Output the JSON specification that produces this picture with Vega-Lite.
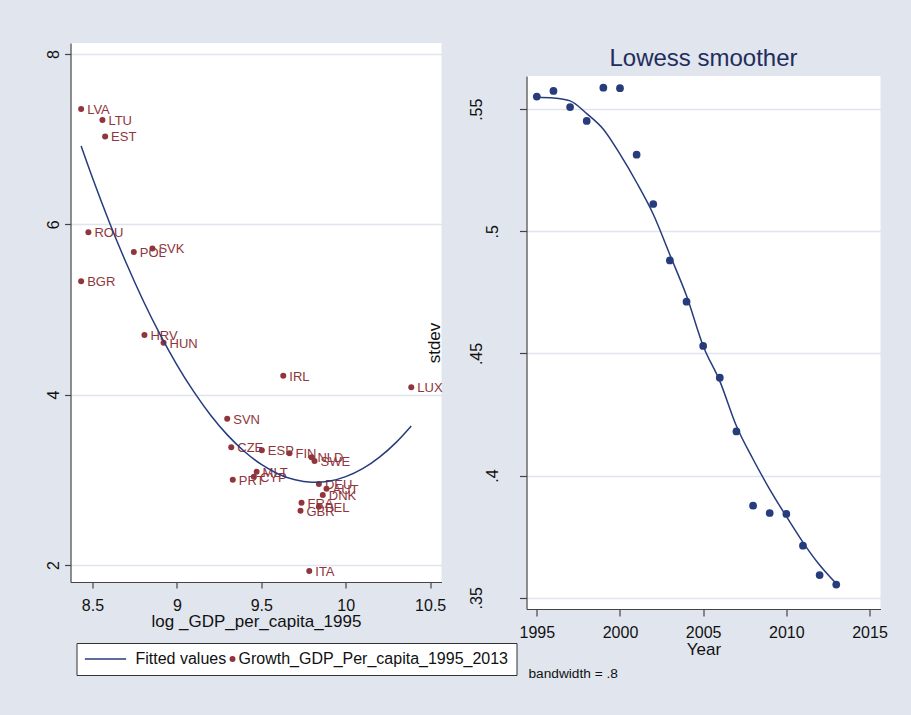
{
  "$schema": "https://vega.github.io/schema/vega-lite/v6.json",
  "background": "#e0e5ee",
  "padding": {"left": 45.5, "top": 43, "right": 27, "bottom": 38},
  "spacing": -21,
  "config": {
    "font": "Liberation Sans",
    "view": {"stroke": null, "fill": "white"},
    "axis": {
      "labelFont": "Liberation Sans",
      "titleFont": "Liberation Sans",
      "labelFontSize": 16,
      "titleFontSize": 17,
      "labelColor": "#111111",
      "titleColor": "#111111",
      "titleFontWeight": "normal",
      "domainColor": "#444444",
      "tickColor": "#444444",
      "domainWidth": 1.2,
      "tickWidth": 1.2,
      "gridColor": "#dfe4ee",
      "gridWidth": 1.5
    }
  },
  "hconcat": [
    {
      "width": 371,
      "height": 539,
      "layer": [
        {
          "data": {"values": [
            {"country": "LVA", "lgdp": 8.433, "growth": 7.354},
            {"country": "LTU", "lgdp": 8.559, "growth": 7.225},
            {"country": "EST", "lgdp": 8.575, "growth": 7.033},
            {"country": "ROU", "lgdp": 8.476, "growth": 5.906},
            {"country": "POL", "lgdp": 8.745, "growth": 5.675},
            {"country": "SVK", "lgdp": 8.855, "growth": 5.718},
            {"country": "BGR", "lgdp": 8.433, "growth": 5.331},
            {"country": "HRV", "lgdp": 8.808, "growth": 4.700},
            {"country": "HUN", "lgdp": 8.921, "growth": 4.610},
            {"country": "IRL", "lgdp": 9.630, "growth": 4.223},
            {"country": "LUX", "lgdp": 10.388, "growth": 4.086},
            {"country": "SVN", "lgdp": 9.298, "growth": 3.718},
            {"country": "CZE", "lgdp": 9.322, "growth": 3.382},
            {"country": "ESP", "lgdp": 9.503, "growth": 3.347},
            {"country": "FIN", "lgdp": 9.667, "growth": 3.311},
            {"country": "NLD", "lgdp": 9.797, "growth": 3.264},
            {"country": "SWE", "lgdp": 9.815, "growth": 3.221},
            {"country": "MLT", "lgdp": 9.472, "growth": 3.096},
            {"country": "CYP", "lgdp": 9.456, "growth": 3.037},
            {"country": "PRT", "lgdp": 9.331, "growth": 3.002},
            {"country": "DEU", "lgdp": 9.841, "growth": 2.951},
            {"country": "AUT", "lgdp": 9.886, "growth": 2.896},
            {"country": "DNK", "lgdp": 9.864, "growth": 2.822},
            {"country": "FRA", "lgdp": 9.738, "growth": 2.732},
            {"country": "BEL", "lgdp": 9.841, "growth": 2.685},
            {"country": "GBR", "lgdp": 9.732, "growth": 2.638},
            {"country": "ITA", "lgdp": 9.784, "growth": 1.930}
          ]},
          "layer": [
            {
              "mark": {"type": "point", "filled": true, "size": 36, "opacity": 1},
              "encoding": {
                "x": {"field": "lgdp", "type": "quantitative",
                  "scale": {"domain": [8.37, 10.567], "nice": false, "zero": false},
                  "axis": {"title": "log _GDP_per_capita_1995", "values": [8.5, 9, 9.5, 10, 10.5], "format": "~g", "grid": false, "tickSize": 6, "labelPadding": 9, "titlePadding": 0}},
                "y": {"field": "growth", "type": "quantitative",
                  "scale": {"domain": [1.80, 8.13], "nice": false, "zero": false},
                  "axis": {"title": null, "values": [2, 4, 6, 8], "format": "d", "grid": true, "tickSize": 6, "labelAngle": 270, "labelAlign": "center", "labelBaseline": "bottom", "labelPadding": 3}},
                "color": {"datum": "Growth_GDP_Per_capita_1995_2013",
                  "scale": {"domain": ["Fitted values", "Growth_GDP_Per_capita_1995_2013"], "range": ["#263c7c", "#90353b"]},
                  "legend": {
                    "title": null, "orient": "none", "legendX": 6, "legendY": 600,
                    "direction": "horizontal", "columns": 2, "columnPadding": 0,
                    "fillColor": "white", "strokeColor": "#333333", "padding": 8,
                    "labelFontSize": 16, "labelColor": "#111111", "labelFont": "Liberation Sans", "labelLimit": 600,
                    "symbolSize": 1700, "symbolStrokeWidth": 1.5, "labelOffset": 8,
                    "encode": {
                      "symbols": {"update": {
                        "x": {"signal": "datum.value === 'Fitted values' ? 21 : 3"},
                        "shape": {"signal": "datum.value === 'Fitted values' ? 'stroke' : 'circle'"},
                        "size": {"signal": "datum.value === 'Fitted values' ? 1700 : 20"},
                        "fill": {"signal": "datum.value === 'Fitted values' ? 'transparent' : '#90353b'"},
                        "stroke": {"signal": "datum.value === 'Fitted values' ? '#263c7c' : 'transparent'"},
                        "strokeWidth": {"value": 1.5},
                        "opacity": {"value": 1}
                      }},
                      "labels": {"update": {
                        "x": {"signal": "datum.value === 'Fitted values' ? 51 : 9"}
                      }}
                    }
                  }}
              }
            },
            {
              "mark": {"type": "text", "align": "left", "baseline": "middle", "dx": 6, "dy": 1, "fontSize": 13, "font": "Liberation Sans", "color": "#90353b"},
              "encoding": {
                "x": {"field": "lgdp", "type": "quantitative"},
                "y": {"field": "growth", "type": "quantitative"},
                "text": {"field": "country"}
              }
            }
          ]
        },
        {
          "data": {"values": [
            {"lgdp": 8.433, "fitted": 6.920},
            {"lgdp": 8.5, "fitted": 6.548},
            {"lgdp": 8.6, "fitted": 6.026},
            {"lgdp": 8.7, "fitted": 5.546},
            {"lgdp": 8.8, "fitted": 5.106},
            {"lgdp": 8.9, "fitted": 4.708},
            {"lgdp": 9.0, "fitted": 4.351},
            {"lgdp": 9.1, "fitted": 4.035},
            {"lgdp": 9.2, "fitted": 3.759},
            {"lgdp": 9.3, "fitted": 3.525},
            {"lgdp": 9.4, "fitted": 3.332},
            {"lgdp": 9.5, "fitted": 3.180},
            {"lgdp": 9.6, "fitted": 3.069},
            {"lgdp": 9.7, "fitted": 3.000},
            {"lgdp": 9.8, "fitted": 2.971},
            {"lgdp": 9.9, "fitted": 2.983},
            {"lgdp": 10.0, "fitted": 3.037},
            {"lgdp": 10.1, "fitted": 3.131},
            {"lgdp": 10.2, "fitted": 3.267},
            {"lgdp": 10.3, "fitted": 3.443},
            {"lgdp": 10.388, "fitted": 3.633}
          ]},
          "mark": {"type": "line", "strokeWidth": 1.5, "interpolate": "natural"},
          "encoding": {
            "x": {"field": "lgdp", "type": "quantitative", "axis": {"title": "log _GDP_per_capita_1995"}},
            "y": {"field": "fitted", "type": "quantitative", "axis": {"title": null}},
            "color": {"datum": "Fitted values",
              "scale": {"domain": ["Fitted values", "Growth_GDP_Per_capita_1995_2013"], "range": ["#263c7c", "#90353b"]},
              "legend": {
                "title": null, "orient": "none", "legendX": 6, "legendY": 600,
                "direction": "horizontal", "columns": 2, "columnPadding": 0,
                "fillColor": "white", "strokeColor": "#333333", "padding": 8,
                "labelFontSize": 16, "labelColor": "#111111", "labelFont": "Liberation Sans", "labelLimit": 600,
                "symbolSize": 1700, "symbolStrokeWidth": 1.5, "labelOffset": 8,
                "encode": {
                  "symbols": {"update": {
                    "x": {"signal": "datum.value === 'Fitted values' ? 21 : 3"},
                    "shape": {"signal": "datum.value === 'Fitted values' ? 'stroke' : 'circle'"},
                    "size": {"signal": "datum.value === 'Fitted values' ? 1700 : 20"},
                    "fill": {"signal": "datum.value === 'Fitted values' ? 'transparent' : '#90353b'"},
                    "stroke": {"signal": "datum.value === 'Fitted values' ? '#263c7c' : 'transparent'"},
                    "strokeWidth": {"value": 1.5},
                    "opacity": {"value": 1}
                  }},
                  "labels": {"update": {
                    "x": {"signal": "datum.value === 'Fitted values' ? 51 : 9"}
                  }}
                }
              }}
          }
        }
      ]
    },
    {
      "title": {"text": "bandwidth = .8", "orient": "bottom", "anchor": "start", "frame": "bounds", "fontSize": 13.7, "fontWeight": "normal", "font": "Liberation Sans", "color": "#111111", "dx": 103, "offset": 10},
      "spacing": 2,
      "vconcat": [
        {
          "width": 354,
          "height": 1,
          "view": {"fill": null, "stroke": null},
          "data": {"values": []},
          "mark": "point"
        },
        {
          "width": 354,
          "height": 533,
          "title": {"text": "Lowess smoother", "fontSize": 24, "fontWeight": "normal", "font": "Liberation Sans", "color": "#232d5c", "offset": 5.5, "anchor": "middle", "frame": "group"},
          "layer": [
            {
              "data": {"values": [
                {"year": 1995, "stdev": 0.5552},
                {"year": 1996, "stdev": 0.5575},
                {"year": 1997, "stdev": 0.5509},
                {"year": 1998, "stdev": 0.5452},
                {"year": 1999, "stdev": 0.5588},
                {"year": 2000, "stdev": 0.5586},
                {"year": 2001, "stdev": 0.5314},
                {"year": 2002, "stdev": 0.5112},
                {"year": 2003, "stdev": 0.4881},
                {"year": 2004, "stdev": 0.4712},
                {"year": 2005, "stdev": 0.4531},
                {"year": 2006, "stdev": 0.4401},
                {"year": 2007, "stdev": 0.4181},
                {"year": 2008, "stdev": 0.3877},
                {"year": 2009, "stdev": 0.3847},
                {"year": 2010, "stdev": 0.3843},
                {"year": 2011, "stdev": 0.3713},
                {"year": 2012, "stdev": 0.3593},
                {"year": 2013, "stdev": 0.3554}
              ]},
              "mark": {"type": "point", "filled": true, "size": 60, "opacity": 1, "color": "#263c7c"},
              "encoding": {
                "x": {"field": "year", "type": "quantitative",
                  "scale": {"domain": [1994.38, 2015.66], "nice": false, "zero": false},
                  "axis": {"title": "Year", "values": [1995, 2000, 2005, 2010, 2015], "format": "d", "grid": false, "tickSize": 7, "labelPadding": 8, "titlePadding": 1}},
                "y": {"field": "stdev", "type": "quantitative",
                  "scale": {"domain": [0.3454, 0.5636], "nice": false, "zero": false},
                  "axis": {"title": "stdev", "values": [0.35, 0.4, 0.45, 0.5, 0.55], "grid": true, "tickSize": 7,
                    "labelExpr": "replace(format(datum.value, '~g'), '0.', '.')",
                    "labelAngle": 270, "labelAlign": "center",
                    "labelBaseline": {"condition": {"test": "datum.value == 0.5 || datum.value == 0.4", "value": "top"}, "value": "bottom"},
                    "labelPadding": 35, "titlePadding": 25}}
              }
            },
            {
              "data": {"values": [
                {"year": 1995, "lowess": 0.5549},
                {"year": 1996, "lowess": 0.5546},
                {"year": 1997, "lowess": 0.5534},
                {"year": 1998, "lowess": 0.5482},
                {"year": 1999, "lowess": 0.5418},
                {"year": 2000, "lowess": 0.5316},
                {"year": 2001, "lowess": 0.5200},
                {"year": 2002, "lowess": 0.5070},
                {"year": 2003, "lowess": 0.4904},
                {"year": 2004, "lowess": 0.4736},
                {"year": 2005, "lowess": 0.4531},
                {"year": 2006, "lowess": 0.4387},
                {"year": 2007, "lowess": 0.4203},
                {"year": 2008, "lowess": 0.4067},
                {"year": 2009, "lowess": 0.3944},
                {"year": 2010, "lowess": 0.3833},
                {"year": 2011, "lowess": 0.3727},
                {"year": 2012, "lowess": 0.3634},
                {"year": 2013, "lowess": 0.3558}
              ]},
              "mark": {"type": "line", "strokeWidth": 1.5, "interpolate": "monotone", "color": "#263c7c"},
              "encoding": {
                "x": {"field": "year", "type": "quantitative", "axis": {"title": "Year"}},
                "y": {"field": "lowess", "type": "quantitative", "axis": {"title": "stdev"}}
              }
            }
          ]
        }
      ]
    }
  ]
}
